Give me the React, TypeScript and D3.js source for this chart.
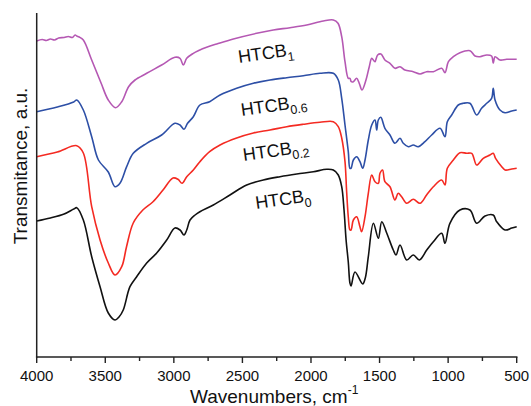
import React from "react";
import * as d3 from "d3";

const xTicks = [4000, 3500, 3000, 2500, 2000, 1500, 1000, 500];
const xMinorTicks = [3750, 3250, 2750, 2250, 1750, 1250, 750];

const seriesNames = ["HTCB1", "HTCB0.6", "HTCB0.2", "HTCB0"];
const seriesColors = ["#b558b3", "#2d4fa6", "#f42a22", "#111111"];

const wnHTCB1 = [4000, 3960, 3930, 3900, 3870, 3840, 3800, 3770, 3740, 3720, 3708, 3690, 3660, 3599, 3530, 3478, 3425, 3380, 3330, 3283, 3198, 3089, 2992, 2955, 2931, 2906, 2858, 2822, 2756, 2687, 2566, 2396, 2275, 2153, 2031, 1910, 1837, 1803, 1776, 1752, 1728, 1716, 1706, 1691, 1667, 1648, 1628, 1599, 1575, 1557, 1540, 1533, 1514, 1490, 1461, 1424, 1388, 1351, 1315, 1254, 1205, 1157, 1108, 1047, 1023, 998, 962, 914, 841, 804, 768, 719, 683, 671, 658, 622, 573, 500];
const valHTCB1 = [316, 317.5, 316.5, 318, 317, 319, 319.5, 320.5, 319.5, 322, 321, 320, 317, 297, 273.7, 257, 249.3, 255.3, 270.3, 277, 283.7, 292, 299.7, 298.7, 292, 298.7, 303.7, 306.3, 310, 313, 318, 323.7, 327, 329.3, 332, 336, 337, 333.7, 320.3, 295.3, 278.7, 278.7, 275.3, 275.3, 278.7, 273.7, 267, 277, 290.3, 298.7, 296, 295.3, 302, 303, 297, 293.7, 288.7, 290.3, 287, 285.3, 283, 285.3, 285.3, 288.7, 284.3, 295.3, 300.3, 304.3, 306.3, 301, 300.3, 302, 301, 293.7, 300.3, 297, 297.7, 297.7];

const wnHTCB06 = [4000, 3850, 3730, 3708, 3660, 3599, 3550, 3478, 3429, 3393, 3344, 3296, 3198, 3089, 2992, 2955, 2926, 2900, 2858, 2810, 2739, 2663, 2542, 2420, 2299, 2177, 2056, 1935, 1837, 1801, 1776, 1752, 1728, 1716, 1708, 1691, 1667, 1643, 1623, 1606, 1582, 1557, 1533, 1521, 1509, 1491, 1461, 1424, 1388, 1351, 1327, 1290, 1254, 1218, 1169, 1120, 1059, 1023, 1006, 974, 926, 890, 841, 792, 756, 719, 683, 671, 658, 622, 585, 536, 500];
const valHTCB06 = [245.3, 250, 255, 257, 247, 220.3, 197, 185, 170.3, 173.7, 190.3, 203.7, 213.7, 222, 233.7, 232, 227.7, 233.7, 240.3, 252, 255.3, 262, 268.7, 273.7, 277, 279.3, 281.3, 283.7, 283.7, 277, 258.7, 232, 205.3, 188.7, 188.7, 197, 200.3, 195.3, 188.7, 197, 217, 232, 237, 227, 237, 239.7, 228.7, 222, 213.7, 218.7, 213.7, 210.3, 212, 210.3, 215.3, 222, 228.7, 220.3, 235.3, 242, 252, 253.7, 253.7, 242, 248.7, 253.7, 258.7, 268.7, 257, 247, 244.3, 246, 247];

const wnHTCB02 = [4000, 3850, 3708, 3660, 3599, 3538, 3478, 3429, 3380, 3345, 3296, 3226, 3152, 3079, 3006, 2970, 2940, 2906, 2858, 2810, 2739, 2663, 2542, 2420, 2299, 2177, 2056, 1935, 1837, 1801, 1776, 1752, 1740, 1728, 1716, 1708, 1691, 1667, 1643, 1631, 1606, 1582, 1557, 1533, 1509, 1497, 1478, 1461, 1424, 1388, 1364, 1339, 1302, 1254, 1205, 1157, 1108, 1047, 1023, 1006, 962, 914, 865, 828, 792, 744, 695, 671, 654, 609, 585, 536, 500];
const valHTCB02 = [200.3, 205, 211.3, 204, 150.3, 117, 94, 82, 90.3, 110.3, 134, 147, 155.3, 167, 179, 177.7, 173.7, 180.3, 187, 195.3, 205.3, 212, 219, 224, 227, 230.3, 232.7, 234.7, 235.3, 230.3, 219, 195.3, 165.3, 140, 127, 127, 137, 140.3, 130.3, 125.3, 140.3, 163.7, 182, 175.3, 173.7, 183.7, 187, 175.3, 170.3, 157, 163.7, 160.3, 153.7, 157.7, 153.7, 162, 170.3, 177, 172, 188.7, 197, 204.3, 203.7, 203.7, 192, 198.7, 202, 203.7, 198.7, 190.3, 187, 188, 188.7];

const wnHTCB0 = [4000, 3900, 3800, 3730, 3708, 3660, 3599, 3538, 3478, 3429, 3400, 3369, 3320, 3271, 3198, 3125, 3052, 2992, 2955, 2926, 2906, 2882, 2845, 2810, 2712, 2591, 2469, 2348, 2226, 2104, 1983, 1885, 1837, 1801, 1776, 1759, 1744, 1728, 1716, 1708, 1679, 1623, 1604, 1582, 1545, 1509, 1484, 1448, 1400, 1380, 1351, 1302, 1254, 1210, 1156, 1108, 1047, 1023, 987, 914, 841, 792, 731, 671, 646, 585, 536, 500];
const valHTCB0 = [136, 139, 143, 148, 149.3, 137, 100.3, 70.3, 44, 37, 40, 47, 70.3, 80.3, 94, 104, 117, 129, 127, 122, 127, 137, 142, 145.3, 152, 162, 172, 177, 180.3, 183, 185.3, 187.7, 187, 182, 170.3, 147, 117, 95, 74, 71, 85, 73, 79, 100.3, 133.7, 118.7, 135.3, 124, 107, 102, 112, 97, 102, 97, 107, 115.3, 123.7, 113.7, 133.7, 147, 147, 133.7, 141, 142, 135.3, 127, 129, 130.3];

const seriesWn = [wnHTCB1, wnHTCB06, wnHTCB02, wnHTCB0];
const seriesVal = [valHTCB1, valHTCB06, valHTCB02, valHTCB0];

const labelMain = ["HTCB", "HTCB", "HTCB", "HTCB"];
const labelSub = ["1", "0.6", "0.2", "0"];
const labelWn = [2525, 2505, 2490, 2400];
const labelVal = [294, 241, 196, 148];

const W = 531;
const H = 406;
const M = { left: 36.7, right: 516.7, top: 13, bottom: 357 };
const FONT = "'Liberation Sans', Arial, sans-serif";

export default function App() {
  const x = d3.scaleLinear().domain([4000, 500]).range([M.left, M.right]);
  const y = d3.scaleLinear().domain([0, 344]).range([M.bottom, M.top]);

  const line = d3
    .line<[number, number]>()
    .x((d) => x(d[0]))
    .y((d) => y(d[1]))
    .curve(d3.curveCatmullRom.alpha(0.5));

  return (
    <svg
      width={W}
      height={H}
      viewBox={`0 0 ${W} ${H}`}
      style={{ position: "absolute", left: 0, top: 0, display: "block", background: "#fff" }}
    >
      <rect x={0} y={0} width={W} height={H} fill="#fff" />
      {seriesWn.map((wn, i) => (
        <path
          key={seriesNames[i]}
          d={line(wn.map((w, j) => [w, seriesVal[i][j]] as [number, number])) || ""}
          fill="none"
          stroke={seriesColors[i]}
          strokeWidth={1.6}
          strokeLinejoin="round"
        />
      ))}
      {labelMain.map((t, i) => {
        const lx = x(labelWn[i]);
        const ly = y(labelVal[i]);
        return (
          <text
            key={"lab" + i}
            x={lx}
            y={ly}
            transform={`rotate(-8 ${lx} ${ly})`}
            fontFamily={FONT}
            fontSize={18}
            fill="#111"
          >
            {t}
            <tspan fontSize={12.5} dy={5}>
              {labelSub[i]}
            </tspan>
          </text>
        );
      })}
      {/* axes */}
      <line x1={M.left} x2={M.left} y1={M.top} y2={M.bottom + 0.75} stroke="#222" strokeWidth={1.5} />
      <line x1={M.left - 0.75} x2={M.right + 0.75} y1={M.bottom} y2={M.bottom} stroke="#222" strokeWidth={1.5} />
      {xTicks.map((t) => (
        <g key={"t" + t}>
          <line x1={x(t)} x2={x(t)} y1={M.bottom} y2={M.bottom + 6} stroke="#222" strokeWidth={1.4} />
          <text
            x={x(t)}
            y={381}
            textAnchor="middle"
            fontFamily={FONT}
            fontSize={15}
            fill="#111"
          >
            {t}
          </text>
        </g>
      ))}
      {xMinorTicks.map((t) => (
        <line key={"m" + t} x1={x(t)} x2={x(t)} y1={M.bottom} y2={M.bottom + 4} stroke="#222" strokeWidth={1.4} />
      ))}
      <text x={190} y={403} fontFamily={FONT} fontSize={19} fill="#111">
        Wavenumbers, cm
        <tspan fontSize={12} dy={-9}>
          -1
        </tspan>
      </text>
      <text
        transform={`translate(27 166) rotate(-90)`}
        textAnchor="middle"
        fontFamily={FONT}
        fontSize={19}
        fill="#111"
      >
        Transmitance, a.u.
      </text>
    </svg>
  );
}
